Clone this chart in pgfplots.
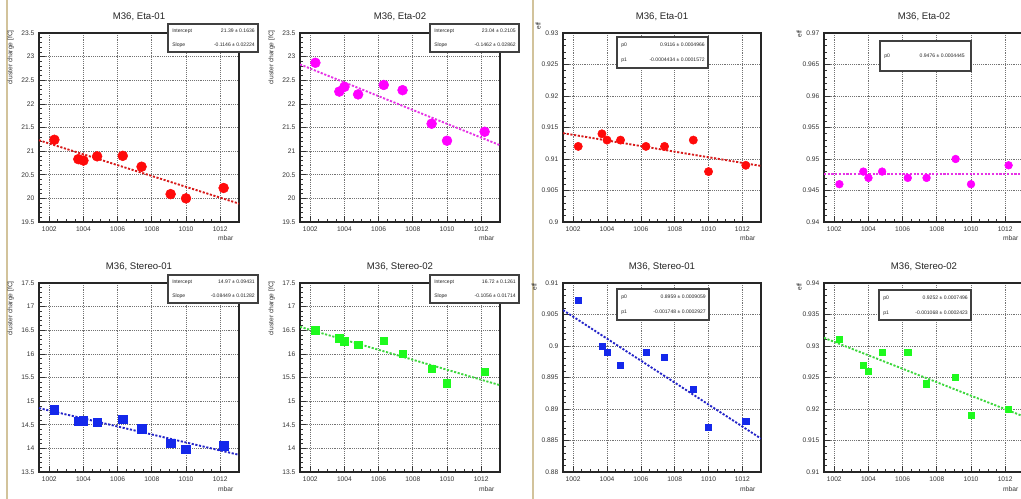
\documentclass[border=0pt]{standalone}
\usepackage{fontspec}
\setmainfont{Liberation Sans}
\usepackage{pgfplots}
\pgfplotsset{compat=1.18}

\definecolor{rred}{RGB}{255,10,10}
\definecolor{rmag}{RGB}{255,0,255}
\definecolor{rblue}{RGB}{20,40,235}
\definecolor{rgreen}{RGB}{30,250,30}
\definecolor{lred}{RGB}{215,25,25}
\definecolor{lmag}{RGB}{230,50,230}
\definecolor{lblue}{RGB}{35,35,200}
\definecolor{lgreen}{RGB}{60,215,60}
\definecolor{beige}{RGB}{210,195,155}

\pgfplotsset{
 rootax/.style={
  scale only axis, width=150pt, height=141.75pt,
  xmin=1001.4, xmax=1013.1,
  xtick={1002,1004,1006,1008,1010,1012},
  minor x tick num=3, minor y tick num=4,
  tick align=inside, tick pos=left,
  major tick length=4.5pt, minor tick length=2.25pt,
  grid=major,
  major grid style={densely dotted, black!55, line width=0.5pt},
  axis line style={line width=0.8pt, black!85},
  tick style={black!80, line width=0.5pt},
  tick label style={font=\fontsize{5}{6}\selectfont, text=black!80},
  /pgf/number format/1000 sep={},
  /pgf/number format/assume math mode=true,
  yticklabel style={/pgf/number format/fixed, /pgf/number format/precision=3},
 },
 fitline/.style={line width=1.4pt, dash pattern=on 1.6pt off 1.2pt, no marks},
}

\begin{document}
\begin{tikzpicture}
\useasboundingbox (0,0) rectangle (765.75pt,374.25pt);
\clip (0,0) rectangle (765.75pt,374.25pt);
\fill[white] (0,0) rectangle (765.75pt,374.25pt);

% ---------- P1: Eta-01 charge ----------
\begin{axis}[rootax, at={(29.25pt,207.75pt)}, anchor=south west,
  ymin=19.5, ymax=23.5, ytick distance=0.5]
\addplot[only marks, mark=*, mark size=3.7pt, color=rred] coordinates {
(1002.3,21.24) (1003.7,20.83) (1004.0,20.80) (1004.8,20.89) (1006.3,20.90)
(1007.4,20.67) (1009.1,20.09) (1010.0,20.00) (1012.2,20.22)};
\addplot[fitline, color=lred] coordinates {(1001.4,21.230) (1013.1,19.889)};
\end{axis}

% ---------- P2: Eta-02 charge ----------
\begin{axis}[rootax, at={(225pt,207.75pt)}, anchor=south west,
  ymin=19.5, ymax=23.5, ytick distance=0.5]
\addplot[only marks, mark=*, mark size=3.7pt, color=rmag] coordinates {
(1002.3,22.87) (1003.7,22.26) (1004.0,22.36) (1004.8,22.20) (1006.3,22.40)
(1007.4,22.29) (1009.1,21.58) (1010.0,21.22) (1012.2,21.41)};
\addplot[fitline, color=lmag] coordinates {(1001.4,22.835) (1013.1,21.125)};
\end{axis}

% ---------- P3: Eta-01 eff ----------
\begin{axis}[rootax, at={(422.25pt,207.75pt)}, anchor=south west, width=148.5pt,
  ymin=0.9, ymax=0.93, ytick distance=0.005]
\addplot[only marks, mark=*, mark size=3.1pt, color=rred] coordinates {
(1002.3,0.912) (1003.7,0.914) (1004.0,0.913) (1004.8,0.913) (1006.3,0.912)
(1007.4,0.912) (1009.1,0.913) (1010.0,0.908) (1012.2,0.909)};
\addplot[fitline, color=lred] coordinates {(1001.4,0.9141) (1013.1,0.9089)};
\end{axis}

% ---------- P4: Eta-02 eff ----------
\begin{axis}[rootax, at={(618pt,207.75pt)}, anchor=south west,
  ymin=0.94, ymax=0.97, ytick distance=0.005]
\addplot[only marks, mark=*, mark size=2.9pt, color=rmag] coordinates {
(1002.3,0.946) (1003.7,0.948) (1004.0,0.947) (1004.8,0.948) (1006.3,0.947)
(1007.4,0.947) (1009.1,0.950) (1010.0,0.946) (1012.2,0.949)};
\addplot[fitline, color=lmag] coordinates {(1001.4,0.9476) (1013.1,0.9476)};
\end{axis}

% ---------- P5: Stereo-01 charge ----------
\begin{axis}[rootax, at={(29.25pt,20.25pt)}, anchor=south west,
  ymin=13.5, ymax=17.5, ytick distance=0.5]
\addplot[only marks, mark=square*, mark size=3.2pt, color=rblue] coordinates {
(1002.3,14.82) (1003.7,14.57) (1004.0,14.58) (1004.8,14.55) (1006.3,14.62)
(1007.4,14.41) (1009.1,14.11) (1010.0,13.98) (1012.2,14.06)};
\addplot[fitline, color=lblue] coordinates {(1001.4,14.852) (1013.1,13.863)};
\end{axis}

% ---------- P6: Stereo-02 charge ----------
\begin{axis}[rootax, at={(225pt,20.25pt)}, anchor=south west,
  ymin=13.5, ymax=17.5, ytick distance=0.5]
\addplot[only marks, mark=square*, mark size=2.8pt, color=rgreen] coordinates {
(1002.3,16.50) (1003.7,16.33) (1004.0,16.27) (1004.8,16.19) (1006.3,16.28)
(1007.4,16.00) (1009.1,15.68) (1010.0,15.38) (1012.2,15.62)};
\addplot[fitline, color=lgreen] coordinates {(1001.4,16.572) (1013.1,15.337)};
\end{axis}

% ---------- P7: Stereo-01 eff ----------
\begin{axis}[rootax, at={(422.25pt,20.25pt)}, anchor=south west, width=148.5pt,
  ymin=0.88, ymax=0.91, ytick distance=0.005]
\addplot[only marks, mark=square*, mark size=2.3pt, color=rblue] coordinates {
(1002.3,0.9072) (1003.7,0.9000) (1004.0,0.8990) (1004.8,0.8970) (1006.3,0.8990)
(1007.4,0.8982) (1009.1,0.8931) (1010.0,0.8871) (1012.2,0.8880)};
\addplot[fitline, color=lblue] coordinates {(1001.4,0.9057) (1013.1,0.8853)};
\end{axis}

% ---------- P8: Stereo-02 eff ----------
\begin{axis}[rootax, at={(618pt,20.25pt)}, anchor=south west,
  ymin=0.91, ymax=0.94, ytick distance=0.005]
\addplot[only marks, mark=square*, mark size=2.3pt, color=rgreen] coordinates {
(1002.3,0.931) (1003.7,0.927) (1004.0,0.926) (1004.8,0.929) (1006.3,0.929)
(1007.4,0.924) (1009.1,0.925) (1010.0,0.919) (1012.2,0.920)};
\addplot[fitline, color=lgreen] coordinates {(1001.4,0.9313) (1013.1,0.9188)};
\end{axis}

% ---------- decorations in pixel coordinates ----------
\begin{scope}[x=0.75pt, y=-0.75pt, yshift=374.25pt]
\draw[beige, line width=1.5pt] (7,0) -- (7,499);
\draw[beige, line width=1.5pt] (533,0) -- (533,499);

\tikzset{ttl/.style={font=\fontsize{7.2}{8}\selectfont, text=black!85},
         lab/.style={font=\fontsize{5}{6}\selectfont, text=black!80},
         box/.style={draw=black!75, line width=1pt, fill=white},
         bt/.style={font=\fontsize{3.8}{4.5}\selectfont, text=black!85, inner sep=0pt}}

% titles
\node[ttl] at (139,17) {M36, Eta-01};
\node[ttl] at (400,17) {M36, Eta-02};
\node[ttl] at (662,17) {M36, Eta-01};
\node[ttl] at (924,17) {M36, Eta-02};
\node[ttl] at (139,267) {M36, Stereo-01};
\node[ttl] at (400,267) {M36, Stereo-02};
\node[ttl] at (662,267) {M36, Stereo-01};
\node[ttl] at (924,267) {M36, Stereo-02};

% y labels
\node[lab, rotate=90, anchor=south east, inner sep=0pt] at (14,30) {cluster charge [fC]};
\node[lab, rotate=90, anchor=south east, inner sep=0pt] at (275,30) {cluster charge [fC]};
\node[lab, rotate=90, anchor=south east, inner sep=0pt] at (14,281) {cluster charge [fC]};
\node[lab, rotate=90, anchor=south east, inner sep=0pt] at (275,281) {cluster charge [fC]};
\node[lab, rotate=90, anchor=south east, inner sep=0pt] at (541,22) {eff};
\node[lab, rotate=90, anchor=south east, inner sep=0pt] at (802,30) {eff};
\node[lab, rotate=90, anchor=south east, inner sep=0pt] at (537,283) {eff};
\node[lab, rotate=90, anchor=south east, inner sep=0pt] at (802,283) {eff};

% x labels
\node[lab, anchor=east] at (238,238) {mbar};
\node[lab, anchor=east] at (499,238) {mbar};
\node[lab, anchor=east] at (760,238) {mbar};
\node[lab, anchor=east] at (1023,238) {mbar};
\node[lab, anchor=east] at (238,489) {mbar};
\node[lab, anchor=east] at (499,489) {mbar};
\node[lab, anchor=east] at (760,489) {mbar};
\node[lab, anchor=east] at (1023,489) {mbar};

% stat boxes
\draw[box] (168,24) rectangle (258,52);
\node[bt, anchor=west] at (172,31) {Intercept};
\node[bt, anchor=east] at (255,31) {21.39 ± 0.1636};
\node[bt, anchor=west] at (172,45) {Slope};
\node[bt, anchor=east] at (255,45) {-0.1146 ± 0.02224};

\draw[box] (430,24) rectangle (519,52);
\node[bt, anchor=west] at (434,31) {Intercept};
\node[bt, anchor=east] at (516,31) {23.04 ± 0.2105};
\node[bt, anchor=west] at (434,45) {Slope};
\node[bt, anchor=east] at (516,45) {-0.1462 ± 0.02862};

\draw[box] (617,37) rectangle (708,68);
\node[bt, anchor=west] at (621,45) {p0};
\node[bt, anchor=east] at (705,45) {0.9116 ± 0.0004966};
\node[bt, anchor=west] at (621,60) {p1};
\node[bt, anchor=east] at (705,60) {-0.0004434 ± 0.0001572};

\draw[box] (880,41) rectangle (971,71);
\node[bt, anchor=west] at (884,56) {p0};
\node[bt, anchor=east] at (965,56) {0.9476 ± 0.0004445};

\draw[box] (168,275) rectangle (258,303);
\node[bt, anchor=west] at (172,282) {Intercept};
\node[bt, anchor=east] at (255,282) {14.97 ± 0.09431};
\node[bt, anchor=west] at (172,296) {Slope};
\node[bt, anchor=east] at (255,296) {-0.08449 ± 0.01282};

\draw[box] (430,275) rectangle (519,303);
\node[bt, anchor=west] at (434,282) {Intercept};
\node[bt, anchor=east] at (516,282) {16.72 ± 0.1261};
\node[bt, anchor=west] at (434,296) {Slope};
\node[bt, anchor=east] at (516,296) {-0.1056 ± 0.01714};

\draw[box] (617,289) rectangle (709,320);
\node[bt, anchor=west] at (621,297) {p0};
\node[bt, anchor=east] at (706,297) {0.8959 ± 0.0009059};
\node[bt, anchor=west] at (621,312) {p1};
\node[bt, anchor=east] at (706,312) {-0.001748 ± 0.0002927};

\draw[box] (879,290) rectangle (971,320);
\node[bt, anchor=west] at (883,298) {p0};
\node[bt, anchor=east] at (968,298) {0.9252 ± 0.0007496};
\node[bt, anchor=west] at (883,313) {p1};
\node[bt, anchor=east] at (968,313) {-0.001068 ± 0.0002423};
\end{scope}
\end{tikzpicture}
\end{document}
